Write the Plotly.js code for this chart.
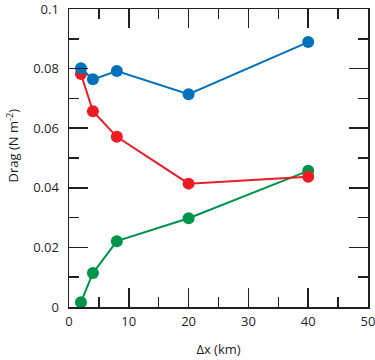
<!DOCTYPE html>
<html><head><meta charset="utf-8">
<script src="https://cdn.plot.ly/plotly-3.0.1.min.js"></script>
<style>html,body{margin:0;padding:0;background:#fff}#c{width:375px;height:360px}</style>
</head><body><div id="c"></div>
<script>
const dx = [2, 4, 8, 20, 40];
const blueDrag = [0.0801, 0.0764, 0.0792, 0.0714, 0.0889];
const redDrag = [0.0782, 0.0657, 0.0571, 0.0414, 0.0437];
const greenDrag = [0.0016, 0.0114, 0.0221, 0.0298, 0.0457];
const xTicks = [0, 10, 20, 30, 40, 50];
const yTicks = [0, 0.02, 0.04, 0.06, 0.08, 0.1];
const yTickText = ['0', '0.02', '0.04', '0.06', '0.08', '0.1'];

function tr(y, color) {
  return {x: dx, y: y, mode: 'lines+markers', type: 'scatter',
    line: {color: color, width: 2}, marker: {color: color, size: 12},
    cliponaxis: false, showlegend: false};
}
const data = [tr(greenDrag, '#00934a'), tr(redDrag, '#ed1c24'), tr(blueDrag, '#0072bc')];
const axBase = {showgrid: false, zeroline: false, showline: true, linecolor: '#231f20', linewidth: 1.5,
  ticks: 'inside', ticklen: 19, tickwidth: 1.5, tickcolor: '#231f20', mirror: 'ticks',
  ticklabeloverflow: 'allow',
  tickfont: {family: 'Open Sans, sans-serif', size: 13, color: '#231f20'}};
const layout = {
  width: 375, height: 360,
  margin: {l: 69, r: 7, t: 9, b: 53},
  paper_bgcolor: '#fff', plot_bgcolor: '#fff',
  font: {family: 'Open Sans, sans-serif', color: '#231f20'},
  xaxis: Object.assign({}, axBase, {range: [0, 50], tickmode: 'array', tickvals: xTicks, ticktext: xTicks.map(String),
    minor: {ticks: 'inside', ticklen: 10, tickwidth: 1.5, tickcolor: '#231f20', dtick: 5, tick0: 0, showgrid: false},
    ticklabelstandoff: 2,
    title: {text: 'Δx (km)', font: {size: 13, color: '#231f20'}, standoff: 16}}),
  yaxis: Object.assign({}, axBase, {range: [0, 0.1], tickmode: 'array', tickvals: yTicks, ticktext: yTickText,
    minor: {ticks: 'inside', ticklen: 10, tickwidth: 1.5, tickcolor: '#231f20', dtick: 0.01, tick0: 0, showgrid: false},
    ticklabelstandoff: 6}),
  annotations: [{text: 'Drag (N m<sup>-2</sup>)', xref: 'paper', yref: 'paper', x: -0.19, y: 0.543,
    xanchor: 'center', yanchor: 'middle', textangle: -90, showarrow: false,
    font: {family: 'Open Sans, sans-serif', size: 13, color: '#231f20'}}]
};
Plotly.newPlot('c', data, layout, {displayModeBar: false, staticPlot: true});
</script></body></html>
